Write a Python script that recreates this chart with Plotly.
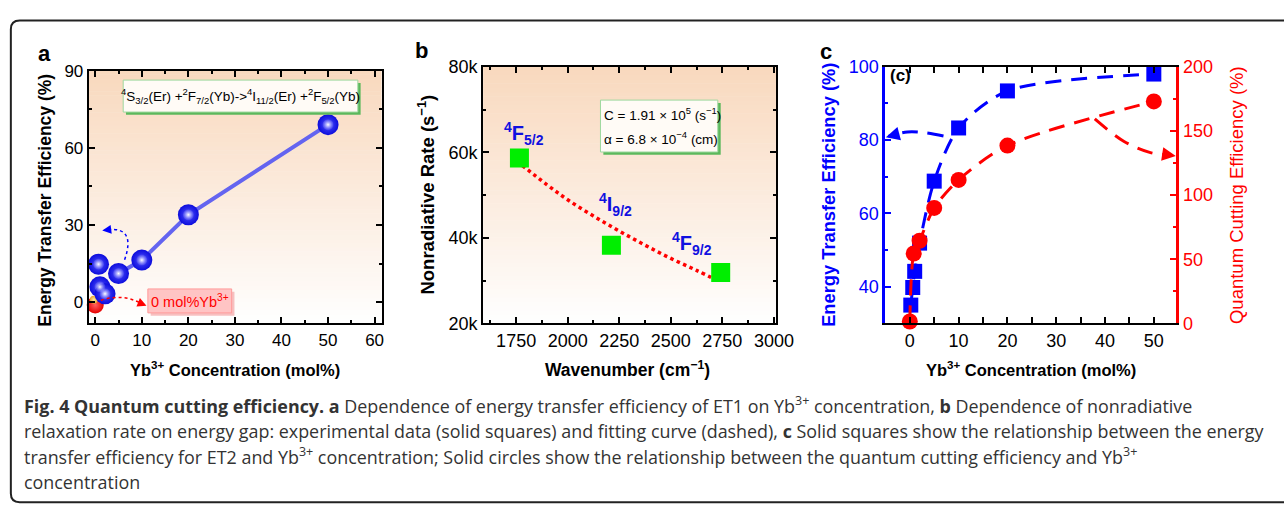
import plotly.graph_objects as go
import numpy as np

W, H = 1284, 519

# ---------------- data ----------------
# panel a
a_x = [0.7, 1.0, 2.1, 5.0, 10.0, 20.0, 50.0]
a_y = [14.8, 6.0, 3.3, 11.2, 16.4, 34.0, 69.0]
a_line_x = [5.0, 10.0, 20.0, 50.0]
a_line_y = [11.2, 16.4, 34.0, 69.0]
a_red_x = [0.0]
a_red_y = [-1.0]
a_orange_x = [-0.3]
a_orange_y = [1.0]

# panel b
b_x = [1766, 2212, 2742]
b_y = [58650, 38270, 31900]
b_fit_x = [1780, 1900, 2000, 2125, 2250, 2375, 2500, 2625, 2740]
b_fit_y = [56900, 52400, 48900, 45100, 41600, 38300, 35200, 32400, 29700]

# panel c
c_sq_x = [0.2, 0.6, 1.0, 2.0, 5.0, 10.0, 20.0, 50.0]
c_sq_y = [35.0, 39.8, 44.2, 51.9, 68.8, 83.3, 93.4, 98.0]
c_ci_x = [0.0, 0.8, 2.0, 5.0, 10.0, 20.0, 50.0]
c_ci_y = [1.5, 54.5, 64.4, 90.0, 111.8, 138.6, 173.0]

# decorative arrows (panel c)
c_blue_arrow_x = [6.9, 3.0, -0.5, -4.4]
c_blue_arrow_y = [81.1, 82.0, 82.2, 81.0]
c_red_arrow_x = [37.9, 43.9, 49.3, 53.6]
c_red_arrow_y = [159.3, 141.8, 133.1, 131.0]

FONT = "Liberation Sans"
BLUE = "#0000ff"
RED = "#ff0000"

fig = go.Figure()


def px_x(p):
    return p / W


def px_y(p):
    return 1 - p / H


dom_a_x = [px_x(90), px_x(387)]
dom_a_y = [px_y(326), px_y(63)]
dom_b_x = [px_x(490), px_x(787)]
dom_b_y = [px_y(326), px_y(59)]
dom_c_x = [px_x(898), px_x(1193)]
dom_c_y = [px_y(326), px_y(59)]

# ---------------- traces: panel a ----------------
fig.add_trace(go.Scatter(x=a_line_x, y=a_line_y, mode="lines",
                         line=dict(color="#6464f0", width=4),
                         xaxis="x", yaxis="y", showlegend=False, hoverinfo="skip"))
fig.add_trace(go.Scatter(x=a_red_x, y=a_red_y, mode="markers",
                         marker=dict(symbol="circle", size=17, color="#e60000",
                                     gradient=dict(type="radial", color="#ff6060"),
                                     line=dict(width=0)),
                         xaxis="x", yaxis="y", showlegend=False, cliponaxis=False))
fig.add_trace(go.Scatter(x=a_orange_x, y=a_orange_y, mode="markers",
                         marker=dict(symbol="circle", size=8, color="#e8a030",
                                     gradient=dict(type="radial", color="#fff0a0"),
                                     line=dict(width=0)),
                         xaxis="x", yaxis="y", showlegend=False, cliponaxis=False))
fig.add_trace(go.Scatter(x=a_x, y=a_y, mode="markers",
                         marker=dict(symbol="circle", size=21, color="#0c0cdc",
                                     gradient=dict(type="radial", color="#5050ff"),
                                     line=dict(width=0)),
                         xaxis="x", yaxis="y", showlegend=False, cliponaxis=False))
# sphere highlights
fig.add_trace(go.Scatter(x=a_x, y=a_y, mode="markers",
                         marker=dict(symbol="circle", size=11, color="rgba(170,170,255,0.15)",
                                     gradient=dict(type="radial", color="#ffffff"),
                                     line=dict(width=0)),
                         xaxis="x", yaxis="y", showlegend=False, cliponaxis=False,
                         hoverinfo="skip"))

# ---------------- traces: panel b ----------------
fig.add_trace(go.Scatter(x=b_fit_x, y=b_fit_y, mode="lines",
                         line=dict(color=RED, width=3.5, dash="dot", shape="spline"),
                         xaxis="x2", yaxis="y2", showlegend=False))
fig.add_trace(go.Scatter(x=b_x, y=b_y, mode="markers",
                         marker=dict(symbol="square", size=19, color="#00ee00",
                                     line=dict(width=0)),
                         xaxis="x2", yaxis="y2", showlegend=False))

# ---------------- traces: panel c ----------------
DASH = "16px,10px"
fig.add_trace(go.Scatter(x=c_blue_arrow_x, y=c_blue_arrow_y, mode="lines",
                         line=dict(color=BLUE, width=3, dash=DASH, shape="spline"),
                         xaxis="x3", yaxis="y3", showlegend=False, cliponaxis=False))
fig.add_trace(go.Scatter(x=c_sq_x, y=c_sq_y, mode="lines+markers",
                         line=dict(color=BLUE, width=3, dash=DASH, shape="spline", smoothing=0.8),
                         marker=dict(symbol="square", size=15, color=BLUE),
                         xaxis="x3", yaxis="y3", showlegend=False, cliponaxis=False))
fig.add_trace(go.Scatter(x=c_red_arrow_x, y=c_red_arrow_y, mode="lines",
                         line=dict(color=RED, width=3, dash=DASH, shape="spline"),
                         xaxis="x3", yaxis="y4", showlegend=False, cliponaxis=False))
fig.add_trace(go.Scatter(x=c_ci_x, y=c_ci_y, mode="lines+markers",
                         line=dict(color=RED, width=3, dash=DASH, shape="spline", smoothing=0.8),
                         marker=dict(symbol="circle", size=16, color=RED),
                         xaxis="x3", yaxis="y4", showlegend=False, cliponaxis=False))


# ---------------- axes ----------------
def ax_common(**kw):
    d = dict(showline=True, linewidth=2, linecolor="black", mirror="allticks",
             ticks="inside", ticklen=6, tickwidth=2, tickcolor="black",
             showgrid=False, zeroline=False,
             tickfont=dict(family=FONT, size=17, color="black"))
    d.update(kw)
    return d


shapes = []
annotations = []

# gradient backgrounds for a and b
N = 60
top = np.array([249, 217, 190])
bot = np.array([255, 255, 255])
for xr, yr in (("x", "y"), ("x2", "y2")):
    for i in range(N):
        f = (i + 0.5) / N  # 0 bottom -> 1 top
        c = bot + (top - bot) * f
        shapes.append(dict(type="rect", xref=xr + " domain", yref=yr + " domain",
                           x0=0, x1=1, y0=i / N, y1=(i + 1) / N + 0.002,
                           fillcolor="rgb(%d,%d,%d)" % tuple(c.astype(int)),
                           line=dict(width=0), layer="below"))

minor_k = dict(ticks="inside", ticklen=3, tickwidth=2, tickcolor="black")
fig.update_layout(
    xaxis=ax_common(domain=dom_a_x, range=[-1.4, 61.5], dtick=10, anchor="y",
                    minor=dict(dtick=5, **minor_k)),
    yaxis=ax_common(domain=dom_a_y, range=[-8.2, 90], dtick=30, anchor="x",
                    minor=dict(dtick=15, **minor_k)),
    xaxis2=ax_common(domain=dom_b_x, range=[1590, 3010], dtick=250, tick0=1750, anchor="y2",
                     tickfont=dict(family=FONT, size=18, color="black"),
                     minor=dict(dtick=125, **minor_k)),
    yaxis2=ax_common(domain=dom_b_y, range=[20000, 80000], dtick=20000, anchor="x2",
                     tickformat="~s",
                     tickfont=dict(family=FONT, size=18, color="black"),
                     minor=dict(dtick=10000, **minor_k)),
    xaxis3=ax_common(domain=dom_c_x, range=[-5, 54.6], dtick=10, anchor="y3",
                     tickfont=dict(family=FONT, size=18, color="black"),
                     minor=dict(dtick=5, **minor_k)),
    yaxis3=ax_common(domain=dom_c_y, range=[30, 100], dtick=20, tick0=0, anchor="x3",
                     linecolor=BLUE, linewidth=3, tickcolor=BLUE, mirror=False,
                     tickfont=dict(family=FONT, size=18, color=BLUE),
                     minor=dict(dtick=10, ticks="inside", ticklen=3, tickwidth=2, tickcolor=BLUE)),
    yaxis4=ax_common(domain=dom_c_y, range=[0, 200], dtick=50, anchor="x3", overlaying="y3",
                     side="right", linecolor=RED, linewidth=3, tickcolor=RED, mirror=False,
                     tickfont=dict(family=FONT, size=18, color=RED),
                     minor=dict(dtick=25, ticks="inside", ticklen=3, tickwidth=2, tickcolor=RED)),
)

# ---------------- panel a decorations ----------------
shapes.append(dict(type="rect", xref="x", yref="y", x0=6.6, x1=57.0, y0=72.8, y1=85.2,
                   fillcolor="#5cb85c", line=dict(width=0)))
shapes.append(dict(type="rect", xref="x", yref="y", x0=6.0, x1=56.4, y0=73.9, y1=86.3,
                   fillcolor="#fffbf6", line=dict(color="#9ed89e", width=1)))
annotations.append(dict(xref="x", yref="y", x=31.2, y=80.1, showarrow=False,
                        text="<sup>4</sup>S<sub>3/2</sub>(Er) +<sup>2</sup>F<sub>7/2</sub>(Yb)-&gt;<sup>4</sup>I<sub>11/2</sub>(Er) +<sup>2</sup>F<sub>5/2</sub>(Yb)",
                        font=dict(family=FONT, size=13.5, color="black")))
shapes.append(dict(type="rect", xref="x", yref="y", x0=11.9, x1=29.9, y0=-5.2, y1=4.1,
                   fillcolor="#f7c0c0", line=dict(width=0)))
shapes.append(dict(type="rect", xref="x", yref="y", x0=11.3, x1=29.3, y0=-4.1, y1=5.2,
                   fillcolor="#ffc4c4", line=dict(color="#ff9a9a", width=1)))
annotations.append(dict(xref="x", yref="y", x=20.3, y=0.5, showarrow=False,
                        text="0 mol%Yb<sup>3+</sup>", font=dict(family=FONT, size=14.5, color=RED)))
shapes.append(dict(type="path", xref="x", yref="y", path="M 6.3,16.5 Q 8.8,29.5 2.6,28.2",
                   line=dict(color=BLUE, width=1.5, dash="dot")))
annotations.append(dict(xref="x", yref="y", axref="x", ayref="y", x=1.5, y=27.9, ax=2.8, ay=28.2,
                        showarrow=True, arrowhead=2, arrowsize=1.2, arrowwidth=1.5,
                        arrowcolor=BLUE, text=""))
shapes.append(dict(type="path", xref="x", yref="y", path="M 1.2,0.8 Q 6,3.6 10.0,-0.6",
                   line=dict(color=RED, width=1.5, dash="dot")))
annotations.append(dict(xref="x", yref="y", axref="x", ayref="y", x=11.0, y=-1.3, ax=9.8, ay=-0.4,
                        showarrow=True, arrowhead=2, arrowsize=1.2, arrowwidth=1.5,
                        arrowcolor=RED, text=""))

# ---------------- panel b decorations ----------------
shapes.append(dict(type="rect", xref="x2", yref="y2", x0=2173, x1=2742, y0=59400, y1=71530,
                   fillcolor="#5cb85c", line=dict(width=0)))
shapes.append(dict(type="rect", xref="x2", yref="y2", x0=2159, x1=2728, y0=60070, y1=72200,
                   fillcolor="#fffbf6", line=dict(color="#9ed89e", width=1)))
annotations.append(dict(xref="x2", yref="y2", x=2167, y=69000, xanchor="left", showarrow=False,
                        text="C = 1.91 × 10<sup>5</sup> (s<sup>−1</sup>)",
                        font=dict(family=FONT, size=13.5, color="black")))
annotations.append(dict(xref="x2", yref="y2", x=2167, y=63300, xanchor="left", showarrow=False,
                        text="α = 6.8 × 10<sup>−4</sup> (cm)",
                        font=dict(family=FONT, size=13.5, color="black")))
for lx, ly, lt in ((1790, 64500, "<b><sup>4</sup>F<sub>5/2</sub></b>"),
                   (2230, 47700, "<b><sup>4</sup>I<sub>9/2</sub></b>"),
                   (2602, 38700, "<b><sup>4</sup>F<sub>9/2</sub></b>")):
    annotations.append(dict(xref="x2", yref="y2", x=lx, y=ly, showarrow=False, text=lt,
                            font=dict(family=FONT, size=20, color="#1010e0")))

# ---------------- panel c decorations ----------------
annotations.append(dict(xref="x3", yref="y3", x=-4.4, y=97.5, xanchor="left", showarrow=False,
                        text="<b>(c)</b>", font=dict(family=FONT, size=17, color="black")))
annotations.append(dict(xref="x3", yref="y3", axref="x3", ayref="y3", x=-4.9, y=80.8,
                        ax=-2.6, ay=81.6, showarrow=True, arrowhead=2, arrowsize=1.1,
                        arrowwidth=2.5, arrowcolor=BLUE, text=""))
annotations.append(dict(xref="x3", yref="y4", axref="x3", ayref="y4", x=54.5, y=130.4,
                        ax=51.5, ay=132.2, showarrow=True, arrowhead=2, arrowsize=1.1,
                        arrowwidth=2.5, arrowcolor=RED, text=""))


# ---------------- titles / labels ----------------
def txt(x, y, t, size, color="black", angle=0, xanchor="center", yanchor="middle", fam=FONT):
    annotations.append(dict(xref="paper", yref="paper", x=px_x(x), y=px_y(y), text=t,
                            showarrow=False, textangle=angle, xanchor=xanchor, yanchor=yanchor,
                            font=dict(family=fam, size=size, color=color)))


txt(45, 45, "<b>a</b>", 22)
txt(427, 42, "<b>b</b>", 22)
txt(838, 43, "<b>c</b>", 22)

txt(46, 198, "<b>Energy Transfer Efficiency (%)</b>", 17.5, angle=-90)
txt(432, 192, "<b>Nonradiative Rate (s<sup>−1</sup>)</b>", 18.5, angle=-90)
txt(840, 192, "<b>Energy Transfer Efficiency (%)</b>", 18.3, color=BLUE, angle=-90)
txt(1254, 192, "Quantum Cutting Efficiency (%)", 18.5, color=RED, angle=-90)

txt(238, 373, "<b>Yb<sup>3+</sup> Concentration (mol%)</b>", 16.5)
txt(636, 373, "<b>Wavenumber (cm<sup>−1</sup>)</b>", 17.5)
txt(1046, 373, "<b>Yb<sup>3+</sup> Concentration (mol%)</b>", 16.5)

# caption
CAP = "Open Sans"
cap_lines = [
    "<b>Fig. 4 Quantum cutting efficiency. a</b> Dependence of energy transfer efficiency of ET1 on Yb<sup>3+</sup> concentration, <b>b</b> Dependence of nonradiative",
    "relaxation rate on energy gap: experimental data (solid squares) and fitting curve (dashed), <b>c</b> Solid squares show the relationship between the energy",
    "transfer efficiency for ET2 and Yb<sup>3+</sup> concentration; Solid circles show the relationship between the quantum cutting efficiency and Yb<sup>3+</sup>",
    "concentration",
]
for i, line in enumerate(cap_lines):
    txt(22, 411 + 26.5 * i, line, 17.9, color="#333333", xanchor="left", fam=CAP)

# frame (rounded, open to the right)
r = 9
x0, y0, y1 = 11, 11, 512
path = ("M %f,%f L %f,%f Q %f,%f %f,%f L %f,%f Q %f,%f %f,%f L %f,%f" % (
    px_x(W + 20), px_y(y0), px_x(x0 + r), px_y(y0), px_x(x0), px_y(y0), px_x(x0), px_y(y0 + r),
    px_x(x0), px_y(y1 - r), px_x(x0), px_y(y1), px_x(x0 + r), px_y(y1), px_x(W + 20), px_y(y1)))
shapes.append(dict(type="path", xref="paper", yref="paper", path=path,
                   line=dict(color="#222222", width=2)))

fig.update_layout(width=W, height=H, margin=dict(l=0, r=0, t=0, b=0),
                  paper_bgcolor="white", plot_bgcolor="white",
                  shapes=shapes, annotations=annotations, showlegend=False)

fig.write_html("out.html")
